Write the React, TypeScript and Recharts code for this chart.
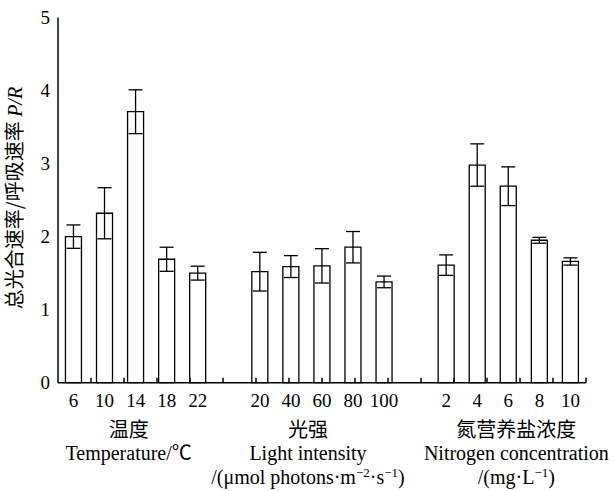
import { BarChart, Bar, XAxis, YAxis, ErrorBar, Label } from 'recharts';

// slots, with an empty one between the three groups
const categories = ['6', '10', '14', '18', '22', '', '20', '40', '60', '80', '100', '', '2', '4', '6', '8', '10'];
const ratio = [2.0, 2.32, 3.71, 1.69, 1.5, null, 1.52, 1.59, 1.6, 1.855, 1.38, null, 1.61, 2.98, 2.69, 1.95, 1.66];
const ratioErr = [0.16, 0.35, 0.3, 0.165, 0.095, null, 0.265, 0.15, 0.235, 0.215, 0.08, null, 0.14, 0.29, 0.265, 0.04, 0.05];

const yTicks = [0, 1, 2, 3, 4, 5];
const yMinorTicks = [0.5, 1.5, 2.5, 3.5, 4.5];
const boundaryTicks = Array.from({ length: 17 }, (_, i) => i + 1);

const groupCenters = [2, 8, 14];
const groupTitlesCn = ['温度', '光强', '氮营养盐浓度'];
const groupTitlesEn = ['Temperature/℃', 'Light intensity', 'Nitrogen concentration'];
const groupShift = [-7, -14, 8];

const data = categories.map((name, i) => ({
	key: i,
	name,
	ratio: ratio[i],
	err: ratioErr[i],
}));

const FONT = "'Liberation Serif', 'Times New Roman', 'Noto Sans CJK SC', serif";
const CJK = "'Noto Sans CJK SC', sans-serif";

const NoLabel = () => <g />;

const unitLine = (g: number) => {
	if (g === 1) {
		return (
			<>
				<tspan>/(μmol photons·m</tspan>
				<tspan dy={-7} fontSize={13}>−2</tspan>
				<tspan dy={7}>·s</tspan>
				<tspan dy={-7} fontSize={13}>−1</tspan>
				<tspan dy={7}>)</tspan>
			</>
		);
	}
	if (g === 2) {
		return (
			<>
				<tspan>/(mg·L</tspan>
				<tspan dy={-7} fontSize={13}>−1</tspan>
				<tspan dy={7}>)</tspan>
			</>
		);
	}
	return null;
};

const CategoryTick = (props: any) => {
	const { x, y, payload } = props;
	const idx = payload.value as number;
	const g = groupCenters.indexOf(idx);
	return (
		<g>
			<text x={x} y={y + 22} textAnchor='middle' fontSize={19} fontFamily={FONT} fill='#000'>
				{categories[idx]}
			</text>
			{g >= 0 && (
				<>
					<text x={x + groupShift[g]} y={y + 52} textAnchor='middle' fontSize={20} fontFamily={CJK} fill='#000'>
						{groupTitlesCn[g]}
					</text>
					<text x={x + groupShift[g]} y={y + 75} textAnchor='middle' fontSize={20} fontFamily={FONT} fill='#000'>
						{groupTitlesEn[g]}
					</text>
					{g > 0 && (
						<text x={x + groupShift[g]} y={y + 99} textAnchor='middle' fontSize={20} fontFamily={FONT} fill='#000'>
							{unitLine(g)}
						</text>
					)}
				</>
			)}
		</g>
	);
};

const YTitle = () => (
	<text
		transform='translate(22,198) rotate(-90)'
		textAnchor='middle'
		fontSize={20}
		fontFamily={FONT}
		fill='#000'
	>
		<tspan fontFamily={CJK}>总光合速率/呼吸速率 </tspan>
		<tspan fontStyle='italic'>P/R</tspan>
	</text>
);

const App = () => {
	return (
		<div style={{ position: 'absolute', left: 0, top: 0, background: '#fff' }}>
			<BarChart
				width={614}
				height={491}
				data={data}
				margin={{ top: 17.5, right: 28, left: 8, bottom: 0 }}
				barCategoryGap='24%'
			>
				<XAxis
					xAxisId='bound'
					type='number'
					domain={[0, 17]}
					ticks={boundaryTicks}
					interval={0}
					height={1}
					mirror
					tick={<NoLabel />}
					tickSize={5}
					stroke='#000'
					strokeWidth={1.5}
				/>
				<XAxis
					xAxisId='cat'
					dataKey='key'
					type='category'
					height={108.3}
					axisLine={false}
					tickLine={false}
					tickSize={0}
					interval={0}
					tick={<CategoryTick />}
				/>
				<YAxis
					yAxisId='major'
					domain={[0, 5]}
					ticks={yTicks}
					width={1}
					mirror
					tick={<NoLabel />}
					tickSize={5}
					stroke='#000'
					strokeWidth={1.5}
				/>
				<YAxis
					yAxisId='minor'
					domain={[0, 5]}
					ticks={yMinorTicks}
					width={1}
					mirror
					tick={<NoLabel />}
					tickSize={3}
					axisLine={false}
					stroke='#000'
					strokeWidth={1.3}
				/>
				<YAxis
					yAxisId='lab'
					domain={[0, 5]}
					ticks={yTicks}
					width={50}
					axisLine={false}
					tickLine={false}
					tickSize={0}
					tickMargin={8}
					tick={{ fill: '#000', fontSize: 19, fontFamily: FONT }}
				>
					<Label content={<YTitle />} />
				</YAxis>
				<Bar
					dataKey='ratio'
					xAxisId='cat'
					yAxisId='lab'
					fill='#fff'
					stroke='#000'
					strokeWidth={1.3}
					isAnimationActive={false}
				>
					<ErrorBar dataKey='err' width={7} stroke='#000' strokeWidth={1.3} isAnimationActive={false} />
				</Bar>
			</BarChart>
		</div>
	);
};

export default App;
